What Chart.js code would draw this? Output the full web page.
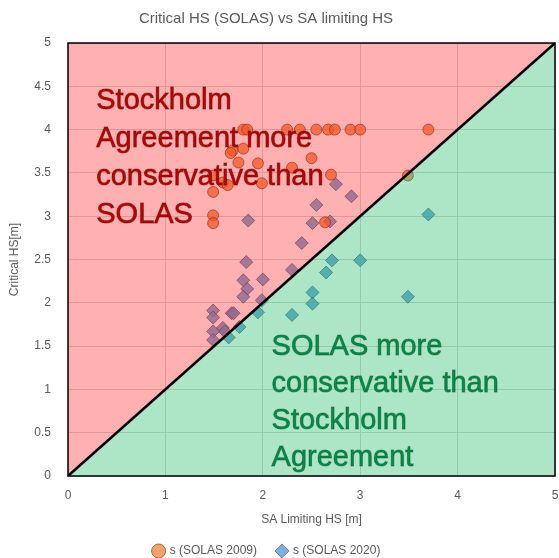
<!DOCTYPE html>
<html>
<head>
<meta charset="utf-8">
<title>Critical HS (SOLAS) vs SA limiting HS</title>
<script src="https://cdn.jsdelivr.net/npm/chart.js@4.4.0/dist/chart.umd.min.js"></script>
<style>
  html, body { margin: 0; padding: 0; background: #fff; }
</style>
</head>
<body>
<canvas id="chart" width="559" height="558"></canvas>
<script>
// SA limiting HS (x) and critical HS (y)
const solas2009X = [1.80, 1.84, 2.25, 2.38, 2.55, 2.67, 2.74, 2.90, 3.00, 3.70,
                    1.69, 1.80, 1.67, 1.75, 1.95, 1.49, 1.59, 1.64, 1.99, 1.49,
                    1.49, 1.49, 2.50, 2.70, 3.49, 2.64, 2.30];
const solas2009Y = [4.00, 4.00, 4.00, 4.00, 4.00, 4.00, 4.00, 4.00, 4.00, 4.00,
                    3.76, 3.78, 3.73, 3.62, 3.61, 3.47, 3.39, 3.36, 3.38, 3.28,
                    3.01, 2.92, 3.67, 3.48, 3.47, 2.93, 3.56];

const solas2020X = [2.75, 2.91, 2.55, 1.85, 2.51, 2.69, 2.40, 1.83, 2.30, 1.80,
                    2.00, 1.84, 1.80, 1.99, 1.49, 1.49, 1.68, 1.70, 1.59, 1.61,
                    1.49, 1.49,
                    3.70, 2.71, 3.00, 2.65, 2.51, 2.51, 3.49, 1.95, 2.30, 1.76,
                    1.65];
const solas2020Y = [3.37, 3.23, 3.13, 2.95, 2.92, 2.94, 2.69, 2.47, 2.38, 2.26,
                    2.27, 2.16, 2.07, 2.03, 1.91, 1.83, 1.88, 1.88, 1.71, 1.67,
                    1.67, 1.57,
                    3.02, 2.49, 2.49, 2.35, 2.12, 1.99, 2.07, 1.89, 1.86, 1.72,
                    1.60];

// 1:1 line splitting the two regions
const equalX = [0, 5];
const equalY = [0, 5];

const xTicks = [0, 1, 2, 3, 4, 5];
const yTicks = [0, 0.5, 1, 1.5, 2, 2.5, 3, 3.5, 4, 4.5, 5];

const upperNote = ['Stockholm', 'Agreement more', 'conservative than', 'SOLAS'];
const lowerNote = ['SOLAS more', 'conservative than', 'Stockholm', 'Agreement'];

const toPoints = (xs, ys) => xs.map((x, i) => ({ x: x, y: ys[i] }));

const FONT = "'Liberation Sans', Arial, sans-serif";
const GREY = '#595959';

// region labels + frame, drawn over the fills
const notesPlugin = {
  id: 'notes',
  afterDatasetsDraw(chart) {
    const { ctx, chartArea: a, scales: { x, y } } = chart;
    ctx.save();
    ctx.font = '29px ' + FONT;
    ctx.textBaseline = 'middle';
    ctx.textAlign = 'left';
    ctx.lineWidth = 1;
    const drawLines = (lines, x0, y0, step, fill, stroke) => {
      lines.forEach((t, i) => {
        const px = x.getPixelForValue(x0);
        const py = y.getPixelForValue(y0) + i * step;
        ctx.fillStyle = fill;
        ctx.fillText(t, px, py);
        ctx.strokeStyle = stroke;
        ctx.strokeText(t, px, py);
      });
    };
    drawLines(upperNote, 0.29, 4.33, 38, '#C00000', 'rgba(90,0,0,0.55)');
    drawLines(lowerNote, 2.09, 1.49, 37, '#00904A', 'rgba(0,70,30,0.45)');

    ctx.strokeStyle = '#000';
    ctx.lineWidth = 1.5;
    ctx.strokeRect(a.left, a.top, a.right - a.left, a.bottom - a.top);
    ctx.restore();
  }
};

// the original centres title and legend a little left of the canvas middle
const blockShift = {
  id: 'blockShift',
  afterLayout(chart) {
    chart.titleBlock.right = chart.titleBlock.left + 532;
    chart.legend.right = chart.legend.left + 534;
  }
};

const config = {
  type: 'scatter',
  data: {
    datasets: [{
      label: 's (SOLAS 2009)',
      data: toPoints(solas2009X, solas2009Y),
      pointStyle: 'circle',
      pointRadius: 5.5,
      backgroundColor: 'rgba(237,125,49,0.72)',
      borderColor: 'rgba(90,50,30,0.75)',
      borderWidth: 0.8,
      order: 3
    }, {
      label: 's (SOLAS 2020)',
      data: toPoints(solas2020X, solas2020Y),
      pointStyle: 'rectRot',
      pointRadius: 6.5,
      backgroundColor: 'rgba(91,155,213,0.8)',
      borderColor: 'rgba(50,70,100,0.75)',
      borderWidth: 0.8,
      order: 3
    }, {
      // pink region above the 1:1 line
      type: 'line',
      label: 'upper',
      data: toPoints(equalX, equalY),
      showLine: true,
      pointRadius: 0,
      borderWidth: 0,
      fill: 'end',
      backgroundColor: 'rgba(255,0,0,0.31)',
      order: 2
    }, {
      // green region below, with the black line itself
      type: 'line',
      label: 'lower',
      data: toPoints(equalX, equalY),
      showLine: true,
      pointRadius: 0,
      borderWidth: 2.5,
      borderColor: '#000',
      fill: 'start',
      backgroundColor: 'rgba(0,176,80,0.32)',
      order: 1
    }]
  },
  options: {
    responsive: false,
    animation: false,
    layout: { autoPadding: false, padding: { left: 0, right: 4, top: 0, bottom: -9 } },
    scales: {
      x: {
        type: 'linear',
        min: 0,
        max: 5,
        afterBuildTicks: s => { s.ticks = xTicks.map(v => ({ value: v })); },
        afterFit: s => { s.height = 49; s.paddingLeft = 0; s.paddingRight = 0; },
        grid: { color: '#d9d9d9', drawTicks: true, tickLength: 12, tickColor: 'rgba(0,0,0,0)' },
        border: { display: false },
        ticks: { color: GREY, font: { family: FONT, size: 12 }, padding: 0, callback: v => String(v) },
        title: {
          display: true,
          text: 'SA Limiting HS [m]',
          color: GREY,
          font: { family: FONT, size: 12 },
          padding: { top: 0, bottom: -2 }
        }
      },
      y: {
        type: 'linear',
        min: 0,
        max: 5,
        afterBuildTicks: s => { s.ticks = yTicks.map(v => ({ value: v })); },
        afterFit: s => { s.width = 68; },
        grid: { color: '#d9d9d9', drawTicks: false },
        border: { display: false },
        ticks: { color: GREY, font: { family: FONT, size: 12 }, padding: 17, callback: v => String(v) },
        title: {
          display: true,
          text: 'Critical HS[m]',
          color: GREY,
          font: { family: FONT, size: 12 },
          padding: { top: 7, bottom: 0 }
        }
      }
    },
    plugins: {
      title: {
        display: true,
        text: 'Critical HS (SOLAS) vs SA limiting HS',
        color: GREY,
        font: { family: FONT, size: 15, weight: 'normal' },
        padding: { top: 10, bottom: 15 }
      },
      legend: {
        position: 'bottom',
        labels: {
          usePointStyle: true,
          boxWidth: 10,
          boxHeight: 10,
          padding: 20,
          color: GREY,
          font: { family: FONT, size: 12 },
          generateLabels: () => [{
            text: 's (SOLAS 2009)',
            fillStyle: 'rgba(237,125,49,0.72)',
            strokeStyle: 'rgba(90,50,30,0.75)',
            lineWidth: 0.8,
            pointStyle: 'circle',
            fontColor: GREY,
            datasetIndex: 0
          }, {
            text: 's (SOLAS 2020)',
            fillStyle: 'rgba(91,155,213,0.8)',
            strokeStyle: 'rgba(50,70,100,0.75)',
            lineWidth: 0.8,
            pointStyle: 'rectRot',
            fontColor: GREY,
            datasetIndex: 1
          }]
        }
      },
      tooltip: { enabled: false }
    }
  },
  plugins: [notesPlugin, blockShift]
};

const ctx = document.getElementById('chart').getContext('2d');
const chart = new Chart(ctx, config);
</script>
</body>
</html>
